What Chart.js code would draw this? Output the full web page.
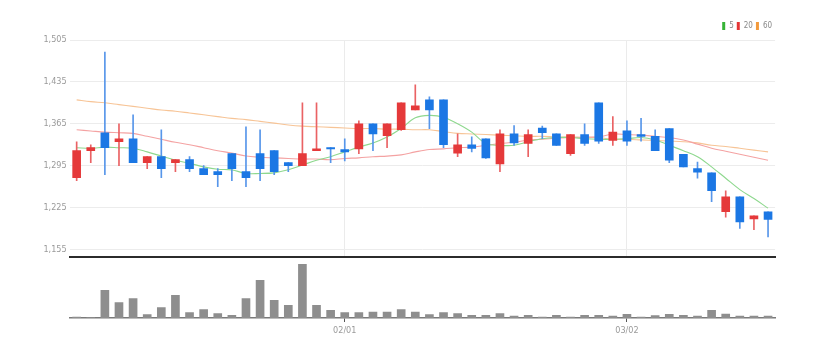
<!DOCTYPE html>
<html><head><meta charset="utf-8">
<script src="https://cdn.jsdelivr.net/npm/chart.js@4/dist/chart.umd.min.js"></script>
<style>
html,body{margin:0;padding:0;background:#fff;}
#wrap{position:relative;width:827px;height:357px;overflow:hidden;}
#pc{position:absolute;left:0;top:0;}
#vc{position:absolute;left:0;top:258px;}
</style></head><body>
<div id="wrap"><canvas id="pc" width="827" height="265"></canvas><canvas id="vc" width="827" height="99"></canvas></div>
<script>
const dates = ['01/03','01/04','01/05','01/06','01/09','01/10','01/11','01/12','01/13','01/16','01/17','01/18','01/19','01/20','01/25','01/26','01/27','01/30','01/31',
  '02/01','02/02','02/03','02/06','02/07','02/08','02/09','02/10','02/13','02/14','02/15','02/16','02/17','02/20','02/21','02/22','02/23','02/24','02/27','02/28',
  '03/02','03/03','03/06','03/07','03/08','03/09','03/10','03/13','03/14','03/15','03/16'];
const shownTicks = ['02/01','03/02'];
const yTicks = [1155,1225,1295,1365,1435,1505];

const opens  = [1275,1320,1350,1335,1340,1300,1310,1300,1305,1290,1285,1315,1285,1315,1320,1300,1295,1320,1325,1322,1323,1365,1345,1355,1388,1405,1405,1316,1330,1340,1298,1348,1332,1358,1348,1315,1347,1400,1337,1353,1347,1344,1357,1314,1290,1283,1218,1243,1206,1218];
const highs  = [1335,1330,1485,1365,1380,1310,1355,1305,1310,1295,1290,1315,1360,1355,1320,1300,1400,1400,1325,1340,1370,1365,1365,1400,1430,1410,1405,1348,1343,1340,1355,1362,1355,1361,1348,1347,1365,1400,1377,1370,1374,1355,1357,1314,1301,1283,1253,1243,1211,1218];
const lows   = [1270,1300,1280,1295,1300,1290,1275,1285,1285,1280,1260,1270,1260,1270,1280,1285,1295,1320,1300,1303,1315,1320,1325,1354,1388,1357,1325,1310,1318,1307,1285,1329,1310,1340,1329,1312,1329,1332,1329,1329,1336,1320,1300,1293,1274,1235,1209,1190,1188,1176];
const closes = [1320,1325,1325,1340,1300,1310,1290,1305,1290,1280,1280,1290,1275,1290,1285,1295,1315,1323,1323,1318,1365,1348,1365,1400,1395,1388,1330,1330,1324,1308,1348,1333,1347,1350,1329,1347,1332,1336,1351,1336,1344,1320,1304,1293,1284,1253,1243,1201,1211,1205];

const ma5  = [1325,1324,1326,1325,1324,1318,1311,1304,1299,1293,1289,1288,1282,1282,1283,1288,1296,1304,1310,1318,1326,1333,1343,1357,1375,1379,1376,1365,1351,1332,1329,1329,1335,1340,1342,1342,1340,1339,1339,1340,1342,1338,1329,1320,1310,1293,1274,1255,1240,1224];
const ma20 = [1355,1353,1351,1350,1349,1344,1339,1334,1330,1325,1320,1316,1311,1309,1308,1307,1306,1306,1305,1307,1308,1310,1311,1313,1318,1322,1323,1325,1326,1329,1332,1334,1338,1339,1341,1342,1343,1343,1348,1347,1346,1344,1342,1338,1331,1324,1319,1314,1309,1304];
const ma60 = [1405,1402,1400,1397,1394,1391,1388,1386,1383,1380,1377,1374,1372,1369,1366,1363,1361,1360,1359,1358,1357,1357,1356,1356,1355,1355,1352,1349,1348,1347,1346,1345,1344,1344,1343,1343,1342,1342,1339,1339,1338,1337,1336,1335,1333,1329,1327,1324,1321,1318];

const volumes = [1000,300,27700,15300,19300,3300,10300,22700,5300,8300,4300,2700,19300,37700,17700,12700,53700,12700,7700,5300,5300,6000,6000,8300,6000,3500,5300,4300,2700,2700,4300,2000,2700,1000,2700,1000,2700,2700,2000,3700,1000,2300,3700,2700,2000,7700,4000,2000,2000,2000];

const UP = '#e5393a', DOWN = '#1b77e4', UPW = '#ea6264', DOWNW = '#5796ea';
const FONT = "'Liberation Sans Narrow','DejaVu Sans Condensed','Liberation Sans',Arial,sans-serif";
const legendColors = ['#36b336','#e53535','#f29a3c'];

const isUp = closes.map((c,i)=> c >= opens[i]);
const bodies = opens.map((o,i)=>[o, closes[i]]);
const wicks = lows.map((l,i)=>[l, highs[i]]);
const isShown = i => shownTicks.includes(dates[i]);

new Chart(document.getElementById('pc'), {
  type: 'bar',
  data: {
    labels: dates,
    datasets: [
      {type:'line', label:'5', data:ma5, borderColor:'#8ed88e', backgroundColor:legendColors[0], borderWidth:1.1, pointRadius:0, tension:0.35, order:2},
      {type:'line', label:'20', data:ma20, borderColor:'#f4a2a2', backgroundColor:legendColors[1], borderWidth:1.1, pointRadius:0, tension:0.35, order:3},
      {type:'line', label:'60', data:ma60, borderColor:'#f7c496', backgroundColor:legendColors[2], borderWidth:1.1, pointRadius:0, tension:0.35, order:4},
      {label:'body', data:bodies, backgroundColor:isUp.map(u=>u?UP:DOWN), barThickness:8, grouped:false, minBarLength:1, order:0},
      {label:'wick', data:wicks, backgroundColor:isUp.map(u=>u?UPW:DOWNW), barThickness:1, grouped:false, order:1}
    ]
  },
  options: {
    responsive:false, animation:false,
    layout:{padding:{left:9.6, right:51.9, top:19, bottom:3.3}},
    plugins:{
      tooltip:{enabled:false},
      legend:{
        position:'top', align:'end',
        labels:{
          boxWidth:3, boxHeight:8, padding:3, color:'#888',
          font:{family:FONT, size:8},
          filter: item => ['5','20','60'].includes(item.text),
          generateLabels: chart => Chart.defaults.plugins.legend.labels.generateLabels(chart).map(it=>{
            const k = ['5','20','60'].indexOf(it.text);
            if (k>=0){ it.fillStyle = legendColors[k]; it.strokeStyle = legendColors[k]; it.lineWidth = 0; }
            return it;
          })
        }
      }
    },
    scales:{
      x:{
        offset:true,
        grid:{offset:false, drawTicks:false, lineWidth:1, color: ctx => isShown(ctx.index) ? '#ebebeb' : 'rgba(0,0,0,0)'},
        ticks:{display:false},
        border:{display:true, color:'#2b2b2b', width:2},
        afterFit: s => { s.height = 0; }
      },
      y:{
        min:1143, max:1505,
        afterBuildTicks: s => { s.ticks = yTicks.map(v=>({value:v})); },
        ticks:{font:{family:FONT, size:9}, color:'#9a9a9a', padding:3, callback: v => Number(v).toLocaleString('en-US')},
        grid:{color:'#ececec', drawTicks:false},
        border:{display:false},
        afterFit: s => { s.width = 60; }
      }
    }
  }
});

new Chart(document.getElementById('vc'), {
  type:'bar',
  data:{labels:dates, datasets:[{label:'volume', data:volumes, backgroundColor:'#8e8e8e', barThickness:8}]},
  options:{
    responsive:false, animation:false,
    layout:{padding:{left:69.6, right:51.9, top:0, bottom:0}},
    plugins:{legend:{display:false}, tooltip:{enabled:false}},
    scales:{
      x:{
        offset:true,
        grid:{offset:false, drawOnChartArea:false, drawTicks:true, tickLength:4, color: ctx => isShown(ctx.index) ? '#555' : 'rgba(0,0,0,0)'},
        border:{display:true, color:'#7a7a7a', width:1.5},
        ticks:{autoSkip:false, maxRotation:0, minRotation:0, padding:3, font:{family:FONT, size:9}, color:'#9a9a9a',
          callback:(v,i) => isShown(i) ? dates[i] : ''},
        afterFit: s => { s.height = 39; }
      },
      y:{display:false, min:0, max:60000}
    }
  }
});
</script>
</body></html>
